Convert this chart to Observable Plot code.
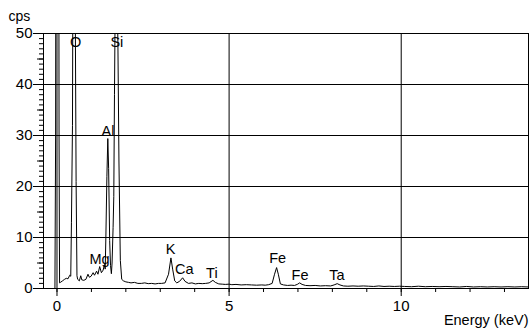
<!DOCTYPE html>
<html>
<head>
<meta charset="utf-8">
<script src="https://cdn.jsdelivr.net/npm/d3@7"></script>
<script src="https://cdn.jsdelivr.net/npm/@observablehq/plot@0.6"></script>
<style>
  html, body { margin: 0; padding: 0; background: #fff; }
  #chart svg { display: block; }
</style>
</head>
<body>
<div id="chart"></div>
<script>
// Spectrum: energy (keV) and counts (cps)
const energy = [-0.06,-0.04,-0.02,0.01,0.04,0.06,0.075,0.10,0.16,0.22,0.27,0.32,0.37,0.40,0.42,0.45,0.47,0.50,0.52,0.555,0.58,0.60,0.65,0.69,0.72,0.78,0.84,0.90,0.94,0.99,1.05,1.09,1.15,1.19,1.24,1.29,1.34,1.38,1.40,1.42,1.45,1.476,1.50,1.53,1.555,1.58,1.60,1.63,1.65,1.67,1.69,1.72,1.75,1.77,1.80,1.84,1.88,1.93,2.00,2.08,2.15,2.25,2.35,2.45,2.55,2.65,2.75,2.85,2.95,3.04,3.14,3.24,3.31,3.36,3.42,3.48,3.56,3.65,3.72,3.82,3.92,4.02,4.12,4.22,4.32,4.42,4.53,4.60,4.70,4.80,4.89,5.00,5.08,5.20,5.35,5.50,5.65,5.80,5.95,6.05,6.15,6.25,6.32,6.38,6.43,6.49,6.58,6.70,6.80,6.90,6.98,7.05,7.12,7.22,7.35,7.50,7.65,7.80,7.95,8.05,8.14,8.22,8.32,8.45,8.60,8.75,8.90,9.05,9.20,9.35,9.50,9.65,9.80,9.95,10.1,10.3,10.5,10.7,10.9,11.1,11.3,11.5,11.7,11.9,12.1,12.3,12.5,12.7,12.9,13.1,13.3,13.5,13.7];
const counts = [0,30,150,220,160,30,1.1,1.2,1.5,1.8,2.0,1.9,2.6,2.4,13,32,80,96,70,21,2.5,1.8,1.5,2.5,1.7,1.6,1.8,2.8,2.2,2.4,3.1,2.6,3.4,2.8,4.3,3.1,3.6,4.7,3.8,10,22,29.4,23.5,9.4,4.5,2.9,5,12,18,38,55,62,58,48,25,5.5,1.8,1.5,1.3,1.2,1.1,1.2,1.0,1.0,1.1,0.95,1.0,0.9,1.0,1.0,1.1,2.8,6.0,3.8,1.5,1.1,1.4,2.1,1.4,1.0,1.1,0.9,1.0,0.95,1.0,1.1,1.6,1.2,0.9,0.85,0.8,0.85,0.75,0.8,0.7,0.75,0.7,0.65,0.7,0.65,0.75,1.0,2.8,4.1,2.8,0.9,0.7,0.6,0.65,0.6,0.8,1.1,0.8,0.6,0.55,0.6,0.5,0.55,0.5,0.7,0.95,0.7,0.5,0.45,0.5,0.45,0.5,0.45,0.4,0.5,0.4,0.45,0.4,0.45,0.4,0.35,0.45,0.35,0.4,0.35,0.4,0.35,0.3,0.4,0.3,0.35,0.3,0.35,0.3,0.35,0.3,0.35,0.3];

// Element labels
const labelText = ["O","Si","Al","Mg","K","Ca","Ti","Fe","Fe","Ta"];
const labelEnergy = [0.54,1.74,1.48,1.235,3.30,3.70,4.50,6.41,7.06,8.13];
const labelCps = [48.2,48.2,30.9,5.8,7.7,3.8,3.0,5.9,2.55,2.55];

// Ticks
const yMajor = [0,10,20,30,40,50];
const yMid = [5,15,25,35,45];
const yMinor = d3.range(0,51,1);
const xMajor = [0,5,10];
const xMinor = d3.range(0,14,1);

const spectrum = energy.map((e,i) => ({e, c: counts[i]}));
const labels = labelText.map((t,i) => ({t, e: labelEnergy[i], c: labelCps[i]}));

const font = "'Liberation Sans', Arial, sans-serif";
const none = () => "";

const chart = Plot.plot({
  width: 529,
  height: 329,
  marginLeft: 43,
  marginRight: 1,
  marginTop: 33,
  marginBottom: 41,
  style: {fontFamily: font, fontSize: "15px", background: "white", color: "black"},
  x: {domain: [-0.392, 13.698]},
  y: {domain: [0, 50]},
  marks: [
    Plot.gridY([10,20,30,40], {stroke: "black", strokeOpacity: 1}),
    Plot.gridX(xMajor, {stroke: "black", strokeOpacity: 1}),
    Plot.line(spectrum, {x: "e", y: "c", stroke: "black", strokeWidth: 1, clip: true}),
    Plot.frame({stroke: "black"}),
    Plot.axisY(yMinor, {tickSize: 4, tickFormat: none, label: null}),
    Plot.axisY(yMid, {tickSize: 6, tickFormat: none, label: null}),
    Plot.axisY(yMajor, {tickSize: 10, tickPadding: 1, label: null, fontSize: 15}),
    Plot.axisX(xMinor, {tickSize: 4, tickFormat: none, label: null}),
    Plot.axisX(xMajor, {tickSize: 8, tickPadding: 4, label: null, fontSize: 15}),
    Plot.text(labels, {x: "e", y: "c", text: "t", fontSize: 14.5, fill: "black"}),
    Plot.text(["cps"], {frameAnchor: "top-left", dx: -35, dy: -17, textAnchor: "start", lineAnchor: "middle", fontSize: 14, fill: "black"}),
    Plot.text(["Energy (keV)"], {frameAnchor: "bottom-right", dy: 32, textAnchor: "end", lineAnchor: "middle", fontSize: 14.5, fill: "black"})
  ]
});
document.getElementById("chart").appendChild(chart);
</script>
</body>
</html>
